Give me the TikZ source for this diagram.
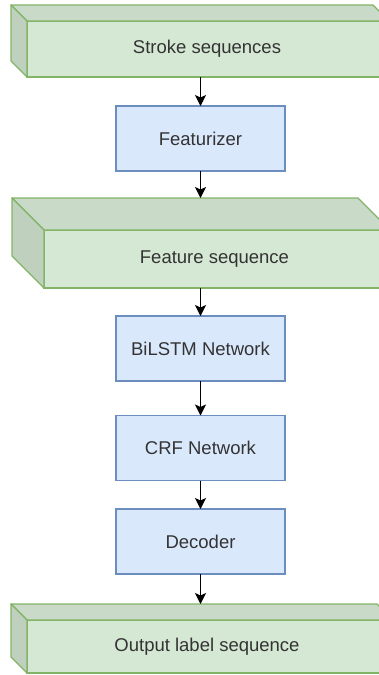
\documentclass[tikz,border=0pt]{standalone}
\usepackage{fontspec}
\setmainfont{Liberation Sans}
\usetikzlibrary{arrows.meta,calc}

\definecolor{gfill}{HTML}{D5E8D4}
\definecolor{gline}{HTML}{82B366}
\definecolor{gtop}{HTML}{C9DBC8}
\definecolor{gside}{HTML}{BFD1BE}
\definecolor{bfill}{HTML}{DAE8FC}
\definecolor{bline}{HTML}{6C8EBF}
\definecolor{ink}{HTML}{333333}

\begin{document}
\begin{tikzpicture}[x=1pt,y=-1pt,
  every node/.style={font=\fontsize{18.5}{22}\selectfont, text=ink, inner sep=0pt, outer sep=0pt},
  stage/.style={draw=bline, fill=bfill, line width=1.3pt, minimum width=169pt, minimum height=65pt},
  front/.style={draw=gline, fill=gfill, line width=1.3pt, anchor=north west},
  face/.style={draw=gline, line width=1.3pt, line join=round},
  flow/.style={-{Stealth[length=11pt,width=11pt,inset=2.5pt]}, line width=1.3pt, black}]

% page frame
\clip (0,0) rectangle (379,675);

% front faces of the three data blocks
\node[front, minimum width=362pt, minimum height=56pt] (stroke) at (27,21)
  {\hspace*{-2pt}Stroke sequences};
\node[front, minimum width=346pt, minimum height=58pt] (feature) at (44,230)
  {\hspace*{-5pt}Feature sequence};
\node[front, minimum width=366pt, minimum height=53pt] (output) at (27,620)
  {\hspace*{-6pt}Output label sequence};

% top and left faces giving the blocks depth
\foreach \b/\d in {stroke/16, feature/32, output/16}{
  \draw[face, fill=gtop] (\b.north west) -- ++(-\d,-\d)
     -- ($(\b.north east)+(-\d,-\d)$) -- (\b.north east) -- cycle;
  \draw[face, fill=gside] (\b.north west) -- ++(-\d,-\d)
     -- ($(\b.south west)+(-\d,-\d)$) -- (\b.south west) -- cycle;
}
\coordinate (stroke-back) at ($(stroke.north)+(0,-16)$);
\coordinate (feature-back) at ($(feature.north)+(0,-32)$);
\coordinate (output-back) at ($(output.north)+(0,-16)$);

% processing stages
\node[stage] (featurizer) at (200.5,138.5) {Featurizer};
\node[stage] (bilstm) at (200.5,348.5) {BiLSTM Network};
\node[stage] (crf) at (200.5,448) {CRF Network};
\node[stage] (decoder) at (200.5,541.5) {Decoder};

% data flow
\draw[flow] (stroke.south -| featurizer.north) -- (featurizer.north);
\draw[flow] (featurizer.south) -- (featurizer.south |- feature-back);
\draw[flow] (feature.south -| bilstm.north) -- (bilstm.north);
\draw[flow] (bilstm.south) -- (crf.north);
\draw[flow] (crf.south) -- (decoder.north);
\draw[flow] (decoder.south) -- (decoder.south |- output-back);
\end{tikzpicture}
\end{document}
